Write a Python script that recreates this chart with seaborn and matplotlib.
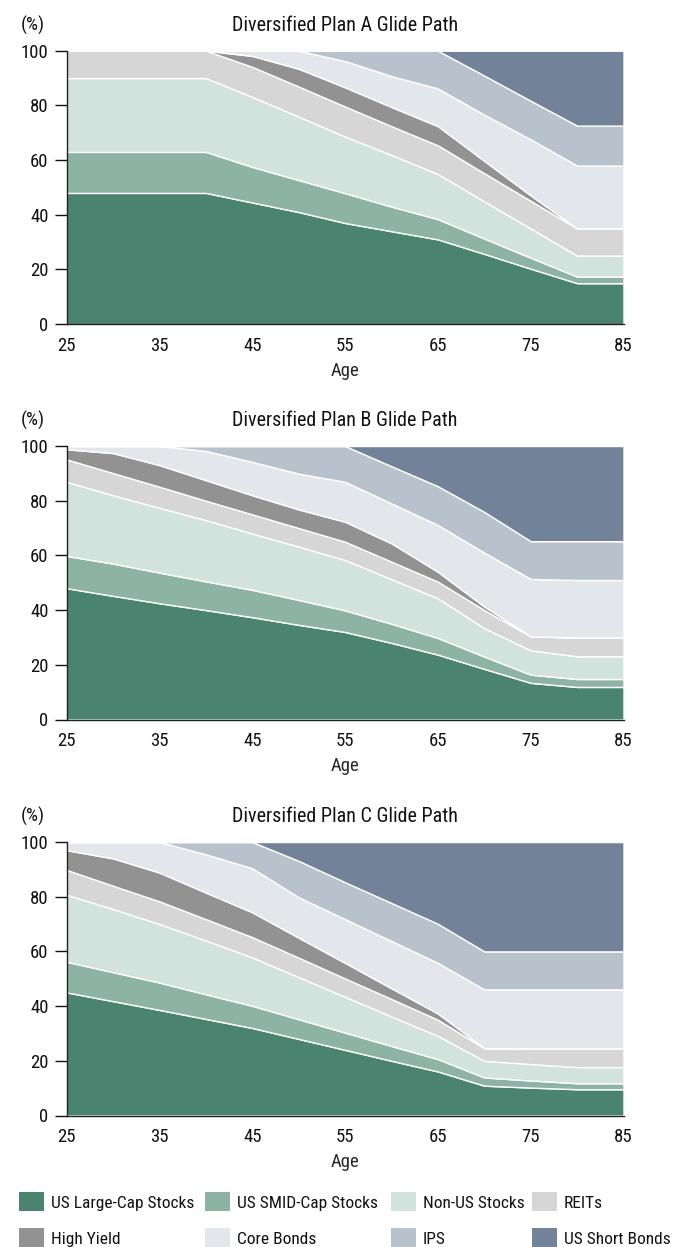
import matplotlib
matplotlib.use("Agg")
import matplotlib.pyplot as plt
from matplotlib import font_manager
from matplotlib.patches import Patch
import seaborn as sns

ages = [25, 30, 35, 40, 45, 50, 55, 60, 65, 70, 75, 80, 85]
age_ticks = [25, 35, 45, 55, 65, 75, 85]
pct_ticks = [0, 20, 40, 60, 80, 100]

asset_names = ["US Large-Cap Stocks", "US SMID-Cap Stocks", "Non-US Stocks", "REITs",
               "High Yield", "Core Bonds", "IPS", "US Short Bonds"]
asset_colors = ["#4a8470", "#8db3a5", "#d2e2dc", "#d6d6d6",
                "#929292", "#e3e7ec", "#b8c2cc", "#728399"]

# Plan A
a_large = [48, 48, 48, 48, 44.5, 41, 37, 34, 31, 25.7, 20.3, 15, 15]
a_smid = [15, 15, 15, 15, 13, 11.7, 10.9, 9, 7.4, 5.6, 4, 2.4, 2.4]
a_nonus = [27, 27, 27, 27, 25.6, 23.2, 20.7, 18.9, 16.5, 13.6, 10.7, 7.7, 7.7]
a_reits = [10, 10, 10, 10, 11, 11, 11, 10.5, 10.5, 10.3, 10.1, 9.9, 9.9]
a_hy = [0, 0, 0, 0, 4, 6.5, 7, 7, 7, 4.5, 2, 0, 0]
a_core = [0, 0, 0, 0, 1.9, 6.6, 9.6, 11.3, 13.8, 16.9, 20.5, 23, 23]
a_ips = [0, 0, 0, 0, 0, 0, 3.8, 9.3, 13.8, 14.3, 14.1, 14.6, 14.6]
a_short = [0, 0, 0, 0, 0, 0, 0, 0, 0, 9.1, 18.3, 27.4, 27.4]

# Plan B
b_large = [48, 45.2, 42.5, 40, 37.4, 34.6, 32, 28, 23.7, 18.5, 13.4, 11.9, 11.9]
b_smid = [11.8, 11.8, 11.2, 10.5, 10, 9.1, 7.9, 7, 6.1, 4.5, 3, 2.9, 2.9]
b_nonus = [27.1, 25, 23.7, 22.4, 20.6, 19.5, 18.4, 16.3, 14.5, 10.4, 8.9, 8.3, 8.3]
b_reits = [8.2, 8.1, 7.7, 7.1, 7, 6.8, 6.7, 6.4, 6.1, 6.6, 5.1, 6.9, 6.9]
b_hy = [3.7, 7.3, 7.9, 7.5, 7, 6.8, 7.3, 6.7, 3.6, 1.3, 0, 0, 0]
b_core = [1.2, 2.6, 7, 10.7, 12.2, 13.1, 14.6, 14.6, 17.1, 19.7, 21, 21, 21]
b_ips = [0, 0, 0, 1.8, 5.8, 10.1, 13.1, 13.6, 14.2, 14.9, 13.8, 14.2, 14.2]
b_short = [0, 0, 0, 0, 0, 0, 0, 7.4, 14.7, 24.1, 34.8, 34.8, 34.8]

# Plan C
c_large = [45, 41.8, 38.6, 35.3, 32, 28, 24, 20, 16.1, 10.9, 10.2, 9.6, 9.6]
c_smid = [11.2, 10.6, 10, 9, 8.1, 7.2, 6.3, 5.4, 4.5, 3, 2.6, 2.2, 2.2]
c_nonus = [24.5, 23.1, 21.4, 19.7, 17.7, 15.4, 13.1, 10.8, 8.5, 6.1, 6, 5.9, 5.9]
c_reits = [9.1, 8.5, 8.3, 7.8, 7.4, 7.1, 6.7, 6.4, 5.9, 4.6, 5.7, 6.8, 6.8]
c_hy = [7.2, 10, 10.5, 9.7, 9.1, 7.3, 5.7, 3.9, 2.3, 0, 0, 0, 0]
c_core = [3, 6, 11.2, 14, 16.1, 14.8, 16, 17.3, 18.5, 21.5, 21.6, 21.6, 21.6]
c_ips = [0, 0, 0, 4.5, 9.6, 13.3, 13.5, 13.9, 14.3, 13.9, 13.9, 13.9, 13.9]
c_short = [0, 0, 0, 0, 0, 6.9, 14.7, 22.3, 29.9, 40, 40, 40, 40]

plans = [
    ("Diversified Plan A Glide Path",
     [a_large, a_smid, a_nonus, a_reits, a_hy, a_core, a_ips, a_short]),
    ("Diversified Plan B Glide Path",
     [b_large, b_smid, b_nonus, b_reits, b_hy, b_core, b_ips, b_short]),
    ("Diversified Plan C Glide Path",
     [c_large, c_smid, c_nonus, c_reits, c_hy, c_core, c_ips, c_short]),
]

# narrow font if one is around
installed = {f.name for f in font_manager.fontManager.ttflist}
narrow = [n for n in ['Liberation Sans Narrow', 'Roboto Condensed',
                      'DejaVu Sans Condensed', 'Open Sans Condensed']
          if n in installed]
if narrow:
    family, fs, fs_title, fs_leg = narrow[0], 13.5, 14.5, 12.5
else:
    family, fs, fs_title, fs_leg = 'Roboto', 12, 12.5, 10.5

sns.set_theme(style="ticks")
plt.rcParams['font.family'] = [family, 'DejaVu Sans']
plt.rcParams['text.color'] = '#111111'

W, H = 674, 1247
fig = plt.figure(figsize=(W / 100, H / 100), dpi=100)
fig.patch.set_facecolor('white')

left_px, right_px = 66.7, 623.5
ax_h = 273.5
tops_px = [50.7, 446, 842]

for (title, series), top in zip(plans, tops_px):
    ax = fig.add_axes([left_px / W, 1 - (top + ax_h) / H,
                       (right_px - left_px) / W, ax_h / H])
    ax.stackplot(ages, *series, colors=asset_colors,
                 edgecolor='white', linewidth=1.0)
    ax.set_xlim(25, 85)
    ax.set_ylim(0, 100)
    ax.set_xticks(age_ticks)
    ax.set_yticks(pct_ticks)
    ax.tick_params(axis='x', length=0, pad=9, labelsize=fs, colors='#111111')
    ax.tick_params(axis='y', length=9, width=1, pad=4, labelsize=fs,
                   colors='#111111')
    sns.despine(ax=ax)
    for s in ['left', 'bottom']:
        ax.spines[s].set_color('#222222')
        ax.spines[s].set_linewidth(1)
    ax.set_xlabel('Age', fontsize=fs, labelpad=5)
    ax.set_ylabel('')
    ax.text(0.5, 1 + 25.5 / ax_h, title, transform=ax.transAxes,
            ha='center', va='center', fontsize=fs_title)
    fig.text(20.5 / W, 1 - (top - 25.5) / H, '(%)', ha='left', va='center',
             fontsize=fs)

# one small legend per column so the columns sit where the original has them
legend_cols = [(19, [0, 4]), (205, [1, 5]), (391, [2, 6]), (532, [3, 7])]
for x_px, idx in legend_cols:
    handles = [Patch(facecolor=asset_colors[i], edgecolor='none',
                     label=asset_names[i]) for i in idx]
    fig.legend(handles=handles, ncol=1, loc='upper left',
               bbox_to_anchor=(x_px / W, 1 - 1192 / H), frameon=False,
               fontsize=fs_leg, handlelength=1.45, handleheight=1.35,
               handletextpad=0.4, labelspacing=0.95,
               borderaxespad=0, borderpad=0)

fig.savefig('out.png', dpi=100)
